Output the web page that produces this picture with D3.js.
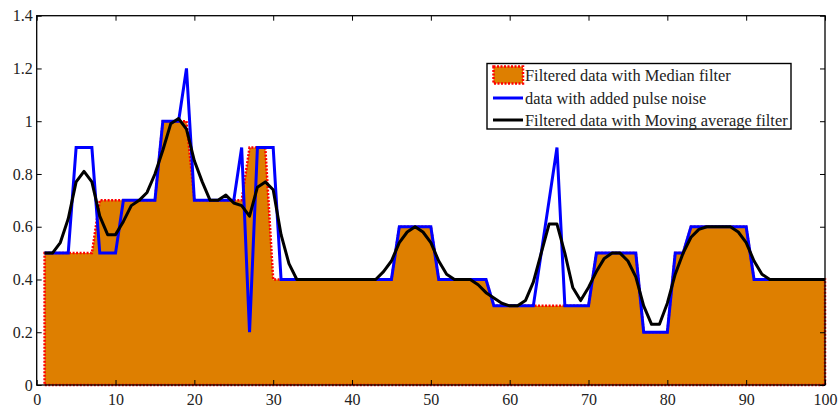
<!DOCTYPE html>
<html>
<head>
<meta charset="utf-8">
<script src="https://cdn.jsdelivr.net/npm/d3@7"></script>
<style>
  body { margin: 0; background: #fff; }
  svg text { font-family: "Liberation Serif", "Times New Roman", serif; fill: #222; }
</style>
</head>
<body>
<div id="chart"></div>
<script>
////////////////////////////////////////////////////////////////////////
// Data (samples at n = 1..100)

let noisy = [
  0.5, 0.5, 0.5, 0.5, 0.9, 0.9, 0.9, 0.5, 0.5, 0.5,
  0.7, 0.7, 0.7, 0.7, 0.7, 1.0, 1.0, 1.0, 1.2, 0.7,
  0.7, 0.7, 0.7, 0.7, 0.7, 0.9, 0.2, 0.9, 0.9, 0.9,
  0.4, 0.4, 0.4, 0.4, 0.4, 0.4, 0.4, 0.4, 0.4, 0.4,
  0.4, 0.4, 0.4, 0.4, 0.4, 0.6, 0.6, 0.6, 0.6, 0.6,
  0.4, 0.4, 0.4, 0.4, 0.4, 0.4, 0.4, 0.3, 0.3, 0.3,
  0.3, 0.3, 0.3, 0.5, 0.7, 0.9, 0.3, 0.3, 0.3, 0.3,
  0.5, 0.5, 0.5, 0.5, 0.5, 0.5, 0.2, 0.2, 0.2, 0.2,
  0.5, 0.5, 0.6, 0.6, 0.6, 0.6, 0.6, 0.6, 0.6, 0.6,
  0.4, 0.4, 0.4, 0.4, 0.4, 0.4, 0.4, 0.4, 0.4, 0.4
];

let median = [
  0.5, 0.5, 0.5, 0.5, 0.5, 0.5, 0.5, 0.7, 0.7, 0.7,
  0.7, 0.7, 0.7, 0.7, 0.7, 1.0, 1.0, 1.0, 1.0, 0.7,
  0.7, 0.7, 0.7, 0.7, 0.7, 0.7, 0.9, 0.9, 0.9, 0.4,
  0.4, 0.4, 0.4, 0.4, 0.4, 0.4, 0.4, 0.4, 0.4, 0.4,
  0.4, 0.4, 0.4, 0.4, 0.4, 0.6, 0.6, 0.6, 0.6, 0.6,
  0.4, 0.4, 0.4, 0.4, 0.4, 0.4, 0.4, 0.3, 0.3, 0.3,
  0.3, 0.3, 0.3, 0.3, 0.3, 0.3, 0.3, 0.3, 0.3, 0.3,
  0.5, 0.5, 0.5, 0.5, 0.5, 0.5, 0.2, 0.2, 0.2, 0.2,
  0.5, 0.5, 0.6, 0.6, 0.6, 0.6, 0.6, 0.6, 0.6, 0.6,
  0.4, 0.4, 0.4, 0.4, 0.4, 0.4, 0.4, 0.4, 0.4, 0.4
];

let movAvg = [
  0.50, 0.50, 0.54, 0.63, 0.77, 0.81, 0.77, 0.64, 0.57, 0.57,
  0.62, 0.68, 0.70, 0.73, 0.80, 0.89, 0.99, 1.01, 0.97, 0.85,
  0.77, 0.70, 0.70, 0.72, 0.69, 0.68, 0.64, 0.75, 0.77, 0.74,
  0.57, 0.46, 0.40, 0.40, 0.40, 0.40, 0.40, 0.40, 0.40, 0.40,
  0.40, 0.40, 0.40, 0.43, 0.47, 0.54, 0.58, 0.60, 0.58, 0.54,
  0.47, 0.42, 0.40, 0.40, 0.40, 0.38, 0.35, 0.33, 0.31, 0.30,
  0.30, 0.32, 0.39, 0.50, 0.61, 0.61, 0.50, 0.37, 0.32, 0.37,
  0.43, 0.48, 0.50, 0.50, 0.47, 0.41, 0.30, 0.23, 0.23, 0.31,
  0.42, 0.50, 0.56, 0.59, 0.60, 0.60, 0.60, 0.60, 0.58, 0.54,
  0.47, 0.42, 0.40, 0.40, 0.40, 0.40, 0.40, 0.40, 0.40, 0.40
];

let xTicks = [0, 10, 20, 30, 40, 50, 60, 70, 80, 90, 100];
let yTicks = [0, 0.2, 0.4, 0.6, 0.8, 1, 1.2, 1.4];

let legendLabels = [
  "Filtered data with Median filter",
  "data with added pulse noise",
  "Filtered data with Moving average filter"
];

////////////////////////////////////////////////////////////////////////
// SVG setup

let W = 838, H = 414;
let mLeft = 36.7, mRight = 825, mTop = 15.7, mBottom = 385;

let svg = d3.select("#chart").append("svg")
  .attr("width", W).attr("height", H);

let x = d3.scaleLinear().domain([0, 100]).range([mLeft, mRight]);
let y = d3.scaleLinear().domain([0, 1.4]).range([mBottom, mTop]);

let idx = d3.range(1, 101);

////////////////////////////////////////////////////////////////////////
// Marks

// median filtered result as filled area with red dotted edge
let area = d3.area()
  .x((d, i) => x(idx[i]))
  .y0(y(0))
  .y1(d => y(d));

svg.append("path")
  .datum(median)
  .attr("d", area)
  .style("fill", "#de7f00")
  .style("stroke", "#ff0000")
  .style("stroke-width", 2.5)
  .style("stroke-dasharray", "2,1.5");

let line = d3.line()
  .x((d, i) => x(idx[i]))
  .y(d => y(d));

svg.append("path")
  .datum(noisy)
  .attr("d", line)
  .style("fill", "none")
  .style("stroke", "#0000ff")
  .style("stroke-width", 3)
  .style("stroke-linejoin", "miter");

svg.append("path")
  .datum(movAvg)
  .attr("d", line)
  .style("fill", "none")
  .style("stroke", "#000")
  .style("stroke-width", 3)
  .style("stroke-linejoin", "round");

////////////////////////////////////////////////////////////////////////
// Axes (MATLAB style box with inward ticks on all sides)

let tick = 5;
let fmt = d => String(+d.toFixed(1));

function styleAxis(g) {
  g.select(".domain").remove();
  g.selectAll(".tick line").attr("stroke", "#000").attr("stroke-width", 1);
  g.selectAll(".tick text")
    .style("font-size", "16px")
    .style("font-family", "'Liberation Serif', serif")
    .attr("fill", "#222");
}

svg.append("g")
  .attr("transform", `translate(0,${mBottom})`)
  .call(d3.axisBottom(x).tickValues(xTicks).tickSize(-tick).tickPadding(8.5).tickFormat(fmt))
  .call(styleAxis);

svg.append("g")
  .attr("transform", `translate(0,${mTop})`)
  .call(d3.axisTop(x).tickValues(xTicks).tickSize(-tick).tickFormat(""))
  .call(styleAxis);

svg.append("g")
  .attr("transform", `translate(${mLeft},0)`)
  .call(d3.axisLeft(y).tickValues(yTicks).tickSize(-tick).tickPadding(4).tickFormat(fmt))
  .call(styleAxis);

svg.append("g")
  .attr("transform", `translate(${mRight},0)`)
  .call(d3.axisRight(y).tickValues(yTicks).tickSize(-tick).tickFormat(""))
  .call(styleAxis);

svg.append("rect")
  .attr("x", mLeft).attr("y", mTop)
  .attr("width", mRight - mLeft).attr("height", mBottom - mTop)
  .style("fill", "none")
  .style("stroke", "#000")
  .style("stroke-width", 1.3);

////////////////////////////////////////////////////////////////////////
// Legend

let lg = svg.append("g").attr("transform", "translate(487,63.5)");

lg.append("rect")
  .attr("width", 304).attr("height", 65.5)
  .style("fill", "#fff")
  .style("stroke", "#000")
  .style("stroke-width", 1.4);

let rowY = [11.5, 34.5, 56.5];

lg.append("rect")
  .attr("x", 6.5).attr("y", rowY[0] - 8.5)
  .attr("width", 29.5).attr("height", 17)
  .style("fill", "#de7f00")
  .style("stroke", "#ff0000")
  .style("stroke-width", 2.5)
  .style("stroke-dasharray", "2,1.5");

lg.append("line")
  .attr("x1", 6).attr("x2", 36).attr("y1", rowY[1]).attr("y2", rowY[1])
  .style("stroke", "#0000ff").style("stroke-width", 3);

lg.append("line")
  .attr("x1", 6).attr("x2", 36).attr("y1", rowY[2]).attr("y2", rowY[2])
  .style("stroke", "#000").style("stroke-width", 3);

lg.selectAll(".lbl")
  .data(legendLabels)
  .enter().append("text")
  .attr("class", "lbl")
  .attr("x", 38)
  .attr("y", (d, i) => rowY[i] + 5.5)
  .style("font-size", "16.4px")
  .text(d => d);
</script>
</body>
</html>
